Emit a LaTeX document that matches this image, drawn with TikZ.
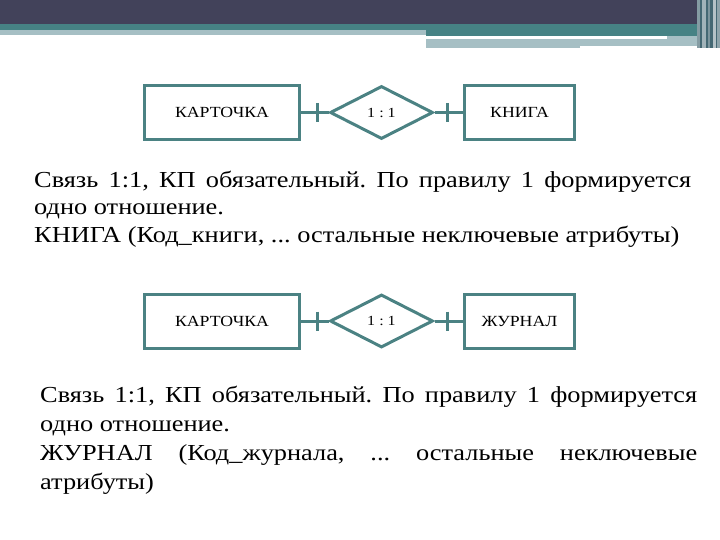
\documentclass[tikz,border=0pt]{standalone}
\usepackage{fontspec}
\setmainfont[FakeStretch=1.15]{Liberation Serif}
\usetikzlibrary{shapes.geometric}
\definecolor{hdark}{HTML}{42425A}
\definecolor{hteal}{HTML}{468284}
\definecolor{hlight}{HTML}{A6BFC4}
\definecolor{erline}{HTML}{4B8283}
\frenchspacing
\begin{document}
\begin{tikzpicture}[x=1bp, y=-1bp,
		entity/.style={draw=erline, line width=3bp, rectangle, minimum height=54bp, inner sep=0pt, font=\fontsize{15.5}{18}\selectfont},
		relship/.style={draw=erline, line width=3bp, diamond, minimum width=103bp, minimum height=53bp, inner sep=0pt, font=\fontsize{14}{16}\selectfont},
		link/.style={draw=erline, line width=3bp},
		para/.style={anchor=north west, inner sep=0pt, text width=657bp, align=justify, font=\fontsize{23}{27.5}\selectfont}]
	\useasboundingbox (0,0) rectangle (720,540);
	% header
	\fill[hdark] (0,0) rectangle (720,24);
	\fill[hteal] (0,24) rectangle (426,30);
	\fill[hlight] (0,30) rectangle (426,35);
	\fill[hteal] (426,24) rectangle (697,36);
	\fill[hlight] (667,36) rectangle (697,39);
	\fill[hlight] (426,39) rectangle (697,46);
	\fill[hlight] (426,46) rectangle (580,48);
	\fill[hteal!60!hdark] (697,0) rectangle (720,48);
	\fill[white, opacity=.35] (697,0) rectangle (700,48);
	\fill[white, opacity=.5] (702,0) rectangle (706,48);
	\fill[white, opacity=.3] (708,0) rectangle (710,48);
	\fill[white, opacity=.6] (713,0) rectangle (716,48);
	\fill[white, opacity=.4] (717,0) rectangle (720,48);

	% first diagram
	\node[entity, minimum width=155bp] (card1) at (222,112.5) {КАРТОЧКА};
	\node[relship] (rel1) at (381.5,112.5) {1 : 1};
	\node[entity, minimum width=110bp] (book) at (519.5,112.5) {КНИГА};
	\draw[link] (card1) -- (rel1) coordinate[pos=.59] (t1);
	\draw[link] (rel1) -- (book) coordinate[pos=.46] (t2);
	\draw[link] (t1) ++(0,-9.5) -- ++(0,19);
	\draw[link] (t2) ++(0,-9.5) -- ++(0,19);
	\node[para] (txt1) at (34,171) {Связь 1:1, КП обязательный. По правилу 1 формируется\linebreak
		одно отношение.\\
		КНИГА (Код\_книги, ... остальные неключевые атрибуты)};

	% second diagram
	\node[entity, minimum width=155bp] (card2) at (222,321) {КАРТОЧКА};
	\node[relship] (rel2) at (381.5,321) {1 : 1};
	\node[entity, minimum width=110bp] (journal) at (519.5,321) {ЖУРНАЛ};
	\draw[link] (card2) -- (rel2) coordinate[pos=.59] (t3);
	\draw[link] (rel2) -- (journal) coordinate[pos=.46] (t4);
	\draw[link] (t3) ++(0,-9.5) -- ++(0,19);
	\draw[link] (t4) ++(0,-9.5) -- ++(0,19);
	\node[para, font=\fontsize{23}{29}\selectfont] (txt2) at (40,386) {Связь 1:1, КП обязательный. По правилу 1 формируется\linebreak
		одно отношение.\\
		ЖУРНАЛ (Код\_журнала, ... остальные неключевые\linebreak
		атрибуты)};
\end{tikzpicture}
\end{document}
